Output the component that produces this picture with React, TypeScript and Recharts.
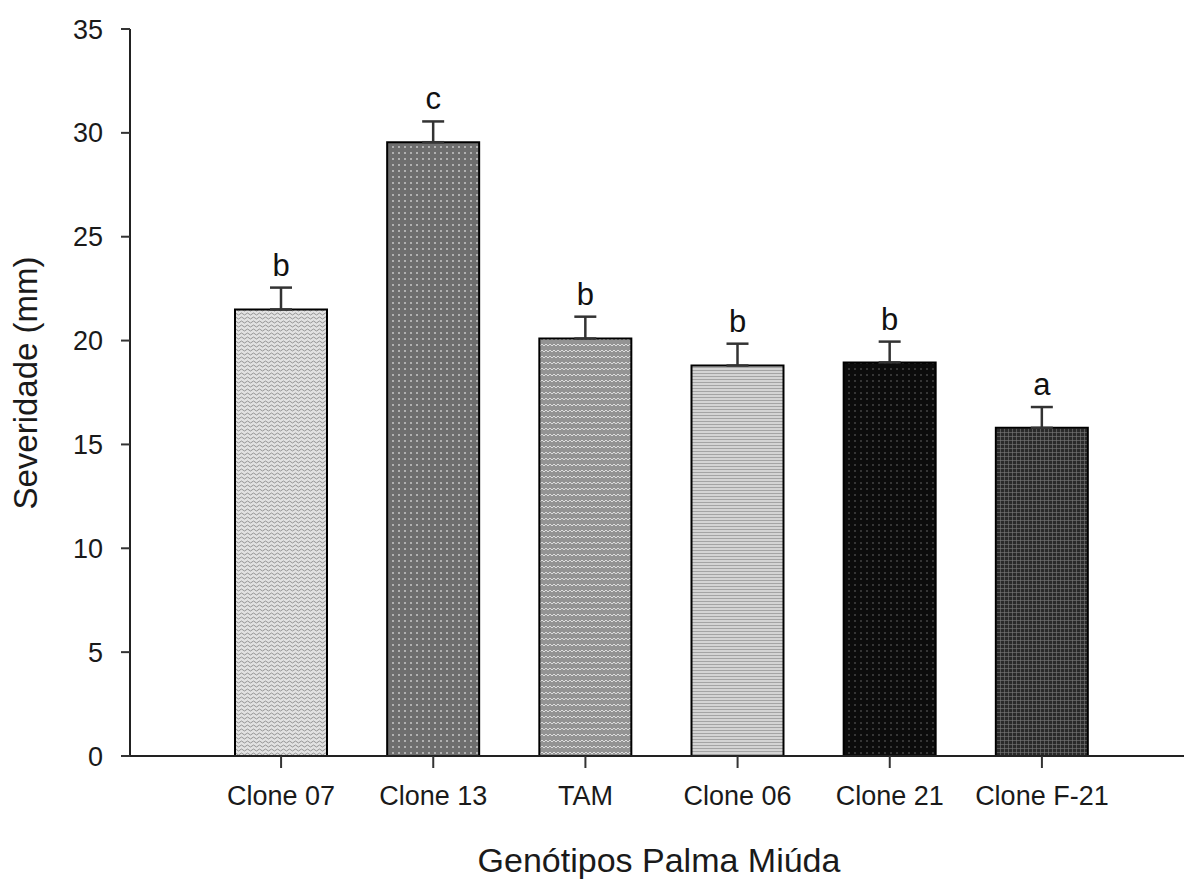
import { BarChart, Bar, XAxis, YAxis, Cell, ErrorBar, LabelList, Label } from "recharts";

const genotypes = ["Clone 07", "Clone 13", "TAM", "Clone 06", "Clone 21", "Clone F-21"];
const severity = [21.5, 29.55, 20.1, 18.8, 18.95, 15.8];
const stdErr = [1.05, 1.0, 1.05, 1.05, 1.0, 1.0];
const groups = ["b", "c", "b", "b", "b", "a"];
const yTicks = [0, 5, 10, 15, 20, 25, 30, 35];
const fills = ["url(#pWave)", "url(#pDots)", "url(#pZig)", "url(#pFine)", "url(#pBlack)", "url(#pGrid)"];

const data = genotypes.map((g, i) => ({
  name: g,
  value: severity[i],
  err: [0, stdErr[i]],
  letter: groups[i],
}));

const FONT = "'Liberation Sans', Arial, Helvetica, sans-serif";

const Patterns = () => (
  <svg width={0} height={0} style={{ position: "absolute" }}>
    <defs>
      <pattern id="pWave" width={6} height={4} patternUnits="userSpaceOnUse">
        <rect width={6} height={4} fill="#e2e2e2" />
        <path d="M0 2 L1.5 1 L3 2 L4.5 3 L6 2" stroke="#8a8a8a" strokeWidth={0.9} fill="none" />
      </pattern>
      <pattern id="pDots" width={6} height={6} patternUnits="userSpaceOnUse">
        <rect width={6} height={6} fill="#6e6e6e" />
        <circle cx={3} cy={3} r={1} fill="#c8c8c8" />
      </pattern>
      <pattern id="pZig" width={8} height={6} patternUnits="userSpaceOnUse">
        <rect width={8} height={6} fill="#939393" />
        <path d="M0 4 L2 2 L4 4 L6 2 L8 4" stroke="#dcdcdc" strokeWidth={1} fill="none" />
      </pattern>
      <pattern id="pFine" width={3} height={3} patternUnits="userSpaceOnUse">
        <rect width={3} height={3} fill="#d4d4d4" />
        <rect x={0} y={1} width={3} height={1} fill="#a4a4a4" />
      </pattern>
      <pattern id="pBlack" width={6} height={6} patternUnits="userSpaceOnUse">
        <rect width={6} height={6} fill="#0c0c0c" />
        <circle cx={3} cy={3} r={0.8} fill="#6a6a6a" />
      </pattern>
      <pattern id="pGrid" width={4} height={4} patternUnits="userSpaceOnUse">
        <rect width={4} height={4} fill="#2a2a2a" />
        <path d="M0 0.5 H4 M0.5 0 V4" stroke="#7a7a7a" strokeWidth={0.6} />
      </pattern>
    </defs>
  </svg>
);

const XTick = (props: any) => {
  const { x, y, payload } = props;
  return (
    <text x={x} y={y} dy={35} textAnchor="middle" fontSize={27} fontFamily={FONT} fill="#1a1a1a">
      {payload.value}
    </text>
  );
};

const YTick = (props: any) => {
  const { x, y, payload } = props;
  return (
    <text x={x - 16} y={y} dy={9.5} textAnchor="end" fontSize={27} fontFamily={FONT} fill="#1a1a1a">
      {payload.value}
    </text>
  );
};

const letterLabel = (props: any) => {
  const { x, y, width, height, value, index } = props;
  if (x === undefined || y === undefined) return null;
  const d = data[index];
  const capY = y - (height / d.value) * stdErr[index];
  return (
    <text x={x + width / 2} y={capY - 12} textAnchor="middle" fontSize={31} fontFamily={FONT} fill="#111">
      {value}
    </text>
  );
};

export default function App() {
  return (
    <div style={{ position: "absolute", left: 0, top: 0, width: 1184, height: 879, background: "#fff" }}>
      <Patterns />
      <BarChart width={1184} height={879} data={data} margin={{ top: 29, right: 0, left: 0, bottom: 0 }}>
        <XAxis
          dataKey="name"
          height={123}
          padding={{ left: 75, right: 66 }}
          stroke="#222"
          strokeWidth={2}
          tickSize={12}
          tick={<XTick />}
          tickLine={{ stroke: "#333", strokeWidth: 2 }}
        >
          <Label
            content={() => (
              <text x={659} y={872} textAnchor="middle" fontSize={34} fontFamily={FONT} fill="#1a1a1a">
                Genótipos Palma Miúda
              </text>
            )}
          />
        </XAxis>
        <YAxis
          width={130}
          domain={[0, 35]}
          ticks={yTicks}
          interval={0}
          stroke="#222"
          strokeWidth={2}
          tickSize={9}
          tick={<YTick />}
          tickLine={{ stroke: "#333", strokeWidth: 2 }}
        >
          <Label
            content={() => (
              <text
                x={37}
                y={383}
                transform="rotate(-90 37 383)"
                textAnchor="middle"
                fontSize={33}
                fontFamily={FONT}
                fill="#1a1a1a"
              >
                Severidade (mm)
              </text>
            )}
          />
        </YAxis>
        <Bar dataKey="value" barSize={92} stroke="#000" strokeWidth={2} isAnimationActive={false}>
          {data.map((d, i) => (
            <Cell key={d.name} fill={fills[i]} />
          ))}
          <ErrorBar dataKey="err" width={11} stroke="#333" strokeWidth={2.5} direction="y" />
          <LabelList dataKey="letter" content={letterLabel} />
        </Bar>
      </BarChart>
    </div>
  );
}
